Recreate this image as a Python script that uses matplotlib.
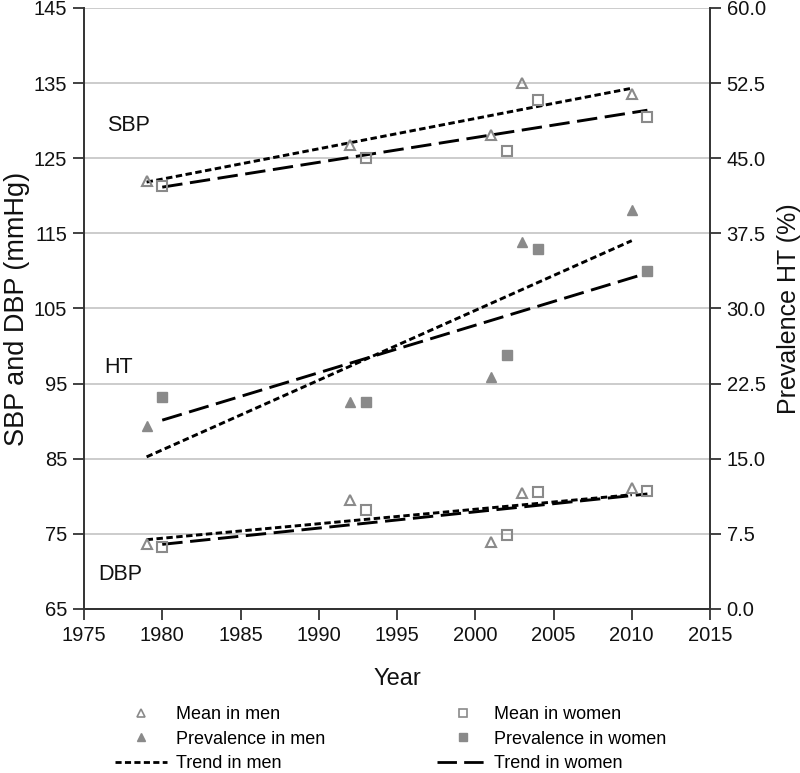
import numpy as np
import matplotlib
matplotlib.use("Agg")
import matplotlib.pyplot as plt
from matplotlib.lines import Line2D

plt.rcParams['font.family'] = ['Liberation Sans', 'DejaVu Sans']

# ---- data ----
years_men = [1979, 1992, 2001, 2003, 2010]
years_women = [1980, 1993, 2002, 2004, 2011]

sbp_men = [122.0, 126.7, 128.1, 135.0, 133.6]
sbp_women = [121.3, 125.0, 126.0, 132.7, 130.5]
dbp_men = [73.6, 79.5, 73.9, 80.4, 81.1]
dbp_women = [73.2, 78.2, 74.8, 80.6, 80.7]
ht_men = [18.3, 20.7, 23.2, 36.6, 39.8]
ht_women = [21.2, 20.7, 25.4, 35.9, 33.7]

left_ticks = [65, 75, 85, 95, 105, 115, 125, 135, 145]
right_ticks = [0.0, 7.5, 15.0, 22.5, 30.0, 37.5, 45.0, 52.5, 60.0]
x_ticks = [1975, 1980, 1985, 1990, 1995, 2000, 2005, 2010, 2015]

gray = '#8a8a8a'
spine_c = '#333333'
txt_c = '#111111'
men_dash = (0, (2.2, 1.2))
women_dash = (0, (7, 2.6))

fig = plt.figure(figsize=(8.0, 7.73), dpi=100)
ax = fig.add_axes([84/800, 1-609/773, (710-84)/800, (609-8)/773])
ax2 = ax.twinx()

ax.set_xlim(1975, 2015)
ax.set_ylim(65, 145)
ax2.set_ylim(0, 60)
ax.set_xticks(x_ticks)
ax.set_yticks(left_ticks)
ax2.set_yticks(right_ticks)
ax2.set_yticklabels([f"{v:.1f}" for v in right_ticks])

for a in (ax, ax2):
    a.spines['top'].set_visible(False)
    for s in ('left', 'right', 'bottom'):
        a.spines[s].set_color(spine_c)
        a.spines[s].set_linewidth(1.4)
    a.tick_params(direction='out', length=8, width=1.3, color=spine_c,
                  labelsize=14.5, labelcolor=txt_c, pad=4)
ax2.spines['left'].set_visible(False)
ax.spines['right'].set_visible(False)

ax.yaxis.grid(True, color='#c8c8c8', linewidth=1.3)
ax.set_axisbelow(True)
ax.set_zorder(2)
ax.patch.set_visible(False)
ax2.set_zorder(3)
ax2.patch.set_visible(False)


def trend(a, xs, ys, ls):
    p = np.polyfit(xs, ys, 1)
    xx = np.array([xs[0], xs[-1]], dtype=float)
    a.plot(xx, np.polyval(p, xx), color='black', linestyle=ls, linewidth=2.1, zorder=3)


ms = 7.2
# SBP / DBP means (left axis)
for ys in (sbp_men, dbp_men):
    ax.plot(years_men, ys, linestyle='none', marker='^', markersize=ms,
            markerfacecolor='none', markeredgecolor=gray, markeredgewidth=1.5, zorder=4)
    trend(ax, years_men, ys, men_dash)
for ys in (sbp_women, dbp_women):
    ax.plot(years_women, ys, linestyle='none', marker='s', markersize=ms - 0.6,
            markerfacecolor='none', markeredgecolor=gray, markeredgewidth=1.5, zorder=4)
    trend(ax, years_women, ys, women_dash)

# prevalence (right axis)
ax2.plot(years_men, ht_men, linestyle='none', marker='^', markersize=ms,
         markerfacecolor=gray, markeredgecolor=gray, zorder=4)
ax2.plot(years_women, ht_women, linestyle='none', marker='s', markersize=ms - 0.6,
         markerfacecolor=gray, markeredgecolor=gray, zorder=4)
trend(ax2, years_men, ht_men, men_dash)
trend(ax2, years_women, ht_women, women_dash)

ax.text(1976.5, 129.3, 'SBP', fontsize=15.5, va='center', ha='left', color=txt_c)
ax.text(1976.3, 97.2, 'HT', fontsize=15.5, va='center', ha='left', color=txt_c)
ax.text(1975.9, 69.6, 'DBP', fontsize=15.5, va='center', ha='left', color=txt_c)

ax.set_xlabel('Year', fontsize=17, color=txt_c, labelpad=17)
ax.set_ylabel('SBP and DBP (mmHg)', fontsize=19.5, color=txt_c, labelpad=3)
ax2.set_ylabel('Prevalence HT (%)', fontsize=18, color=txt_c, labelpad=8)

# legend
h1 = [
    Line2D([], [], linestyle='none', marker='^', markersize=6, markerfacecolor='none',
           markeredgecolor=gray, markeredgewidth=1.2),
    Line2D([], [], linestyle='none', marker='^', markersize=6, markerfacecolor=gray,
           markeredgecolor=gray),
    Line2D([], [], color='black', linestyle=men_dash, linewidth=2),
]
h2 = [
    Line2D([], [], linestyle='none', marker='s', markersize=6, markerfacecolor='none',
           markeredgecolor=gray, markeredgewidth=1.2),
    Line2D([], [], linestyle='none', marker='s', markersize=6, markerfacecolor=gray,
           markeredgecolor=gray),
    Line2D([], [], color='black', linestyle=women_dash, linewidth=2),
]
lab1 = ['Mean in men', 'Prevalence in men', 'Trend in men']
lab2 = ['Mean in women', 'Prevalence in women', 'Trend in women']
common = dict(loc='upper left', frameon=False, fontsize=13, handlelength=2.9,
              labelspacing=0.42, borderpad=0, borderaxespad=0)
leg1 = fig.legend(h1, lab1, bbox_to_anchor=(115/800, 1-706/773), handletextpad=0.5, **common)
leg2 = fig.legend(h2, lab2, bbox_to_anchor=(437/800, 1-706/773), handletextpad=0.25, **common)

fig.savefig('out.png', dpi=100)
